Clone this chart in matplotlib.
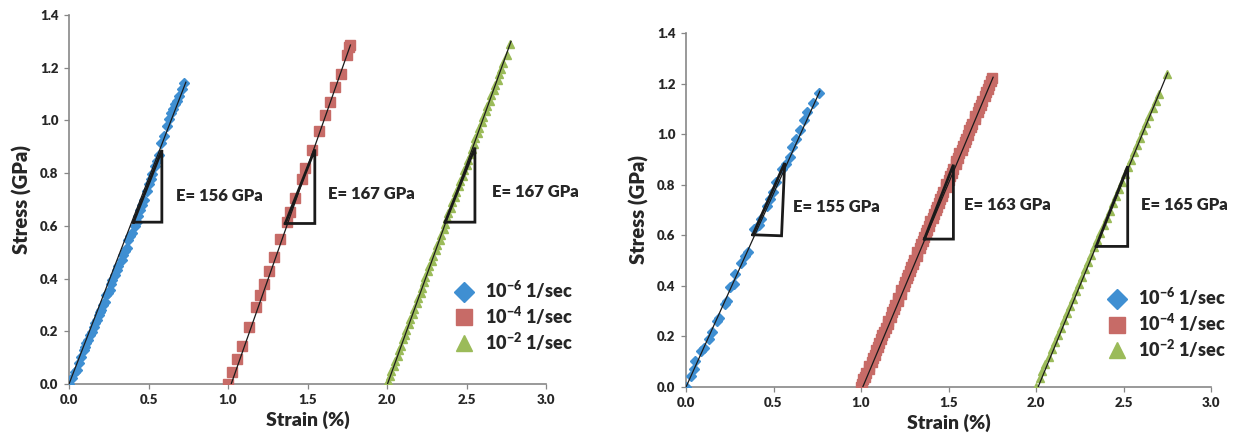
import matplotlib
matplotlib.use("Agg")
import matplotlib.pyplot as plt
from matplotlib.lines import Line2D

FONT = 'Lato'
WEIGHT = 'heavy'
plt.rcParams['font.family'] = [FONT, 'DejaVu Sans']
plt.rcParams['font.weight'] = WEIGHT
plt.rcParams['mathtext.fontset'] = 'custom'
plt.rcParams['mathtext.rm'] = f'{FONT}:{WEIGHT}'
plt.rcParams['mathtext.it'] = f'{FONT}:{WEIGHT}'
plt.rcParams['mathtext.bf'] = f'{FONT}:{WEIGHT}'
plt.rcParams['mathtext.default'] = 'rm'

# ---------------- data: left panel ----------------
L_blue_x = [0.000, 0.020, 0.035, 0.050, 0.062, 0.078, 0.092, 0.099, 0.110, 0.117, 0.130, 0.142,
            0.157, 0.165, 0.174, 0.186, 0.195, 0.204, 0.214, 0.224, 0.231, 0.245, 0.256, 0.265,
            0.273, 0.291, 0.300, 0.311, 0.331, 0.341, 0.352, 0.365, 0.373, 0.386, 0.398, 0.418,
            0.428, 0.435, 0.447, 0.460, 0.472, 0.490, 0.505, 0.515, 0.522, 0.539, 0.554, 0.566,
            0.579, 0.597, 0.614, 0.626, 0.639, 0.651, 0.668, 0.679, 0.689, 0.708, 0.723]
L_blue_y = [0.000, 0.024, 0.045, 0.053, 0.079, 0.104, 0.129, 0.142, 0.155, 0.167, 0.185, 0.199,
            0.218, 0.232, 0.243, 0.262, 0.272, 0.282, 0.300, 0.313, 0.339, 0.347, 0.358, 0.378,
            0.396, 0.415, 0.432, 0.446, 0.472, 0.491, 0.503, 0.516, 0.548, 0.560, 0.573, 0.599,
            0.615, 0.639, 0.662, 0.681, 0.700, 0.732, 0.757, 0.778, 0.795, 0.827, 0.846, 0.870,
            0.913, 0.941, 0.979, 1.005, 1.030, 1.042, 1.062, 1.074, 1.093, 1.118, 1.141]

L_red_x = [0.999, 1.027, 1.059, 1.091, 1.131, 1.176, 1.201, 1.228, 1.255, 1.288, 1.330, 1.370,
           1.387, 1.422, 1.467, 1.486, 1.529, 1.573, 1.608, 1.641, 1.675, 1.708, 1.747, 1.762, 1.767]
L_red_y = [0.000, 0.047, 0.095, 0.146, 0.218, 0.294, 0.336, 0.380, 0.427, 0.483, 0.550, 0.614,
           0.652, 0.706, 0.779, 0.818, 0.886, 0.959, 1.020, 1.069, 1.126, 1.175, 1.248, 1.277, 1.286]

L_green_x = [2.000, 2.004, 2.022, 2.026, 2.045, 2.050, 2.068, 2.074, 2.090, 2.099, 2.115, 2.120,
             2.140, 2.145, 2.163, 2.168, 2.188, 2.192, 2.211, 2.217, 2.235, 2.241, 2.260, 2.265,
             2.284, 2.289, 2.307, 2.314, 2.331, 2.337, 2.356, 2.362, 2.380, 2.386, 2.404, 2.411,
             2.428, 2.434, 2.453, 2.459, 2.477, 2.484, 2.502, 2.508, 2.526, 2.532, 2.550, 2.556,
             2.575, 2.581, 2.599, 2.605, 2.623, 2.629, 2.647, 2.654, 2.672, 2.678, 2.696, 2.702,
             2.720, 2.727, 2.752, 2.774]
L_green_y = [0.000, 0.012, 0.032, 0.048, 0.070, 0.088, 0.108, 0.128, 0.145, 0.170, 0.187, 0.205,
             0.228, 0.247, 0.266, 0.285, 0.308, 0.325, 0.346, 0.366, 0.386, 0.406, 0.428, 0.446,
             0.468, 0.487, 0.507, 0.528, 0.547, 0.567, 0.588, 0.608, 0.628, 0.649, 0.668, 0.690,
             0.709, 0.729, 0.750, 0.770, 0.790, 0.811, 0.831, 0.851, 0.872, 0.892, 0.911, 0.932,
             0.953, 0.973, 0.993, 1.013, 1.034, 1.053, 1.073, 1.095, 1.115, 1.135, 1.155, 1.176,
             1.196, 1.217, 1.250, 1.290]

L_fit_blue = ([0.000, 0.735], [0.000, 1.145])
L_fit_red = ([1.020, 1.770], [0.000, 1.286])
L_fit_green = ([2.003, 2.780], [0.000, 1.300])

L_tri_blue = ([0.405, 0.584, 0.584, 0.405], [0.614, 0.614, 0.888, 0.614])
L_tri_red = ([1.360, 1.546, 1.546, 1.360], [0.609, 0.609, 0.890, 0.609])
L_tri_green = ([2.366, 2.553, 2.553, 2.366], [0.614, 0.614, 0.897, 0.614])
L_labels = ["E= 156 GPa", "E= 167 GPa", "E= 167 GPa"]
L_label_x = [0.676, 1.628, 2.660]
L_label_y = [0.713, 0.719, 0.728]

# ---------------- data: right panel ----------------
R_blue_x = [0.000, 0.029, 0.045, 0.052, 0.085, 0.103, 0.130, 0.146, 0.175, 0.187, 0.220, 0.232,
            0.254, 0.276, 0.281, 0.317, 0.339, 0.355, 0.389, 0.416, 0.429, 0.461, 0.479, 0.497,
            0.512, 0.546, 0.569, 0.596, 0.607, 0.631, 0.654, 0.672, 0.692, 0.726, 0.760]
R_blue_y = [0.000, 0.042, 0.071, 0.104, 0.141, 0.154, 0.190, 0.216, 0.260, 0.273, 0.330, 0.339,
            0.396, 0.409, 0.445, 0.491, 0.520, 0.535, 0.624, 0.642, 0.666, 0.714, 0.743, 0.770,
            0.812, 0.862, 0.882, 0.908, 0.950, 0.981, 1.018, 1.056, 1.086, 1.125, 1.163]

R_red_x = [1.000, 1.006, 1.014, 1.025, 1.030, 1.043, 1.048, 1.061, 1.066, 1.079, 1.085, 1.098,
           1.102, 1.117, 1.121, 1.134, 1.140, 1.153, 1.157, 1.171, 1.176, 1.189, 1.194, 1.209,
           1.212, 1.226, 1.231, 1.244, 1.250, 1.264, 1.268, 1.281, 1.286, 1.299, 1.305, 1.319,
           1.322, 1.336, 1.342, 1.355, 1.359, 1.374, 1.378, 1.391, 1.397, 1.409, 1.415, 1.429,
           1.433, 1.446, 1.452, 1.464, 1.470, 1.485, 1.488, 1.501, 1.507, 1.520, 1.525, 1.540,
           1.543, 1.556, 1.562, 1.575, 1.580, 1.595, 1.598, 1.612, 1.618, 1.630, 1.635, 1.650,
           1.654, 1.667, 1.673, 1.685, 1.690, 1.706, 1.712, 1.724, 1.733, 1.742, 1.750]
R_red_y = [0.000, 0.010, 0.030, 0.040, 0.055, 0.070, 0.084, 0.100, 0.115, 0.128, 0.145, 0.160,
           0.174, 0.190, 0.205, 0.218, 0.235, 0.250, 0.262, 0.278, 0.295, 0.308, 0.325, 0.340,
           0.352, 0.368, 0.385, 0.398, 0.415, 0.430, 0.443, 0.458, 0.475, 0.488, 0.503, 0.520,
           0.532, 0.548, 0.565, 0.578, 0.592, 0.610, 0.622, 0.638, 0.655, 0.667, 0.683, 0.700,
           0.712, 0.727, 0.745, 0.757, 0.772, 0.790, 0.802, 0.817, 0.835, 0.847, 0.862, 0.880,
           0.892, 0.907, 0.925, 0.937, 0.952, 0.970, 0.982, 0.997, 1.015, 1.027, 1.042, 1.060,
           1.072, 1.087, 1.105, 1.117, 1.133, 1.150, 1.165, 1.180, 1.195, 1.210, 1.222]

R_green_x = [2.000, 2.021, 2.037, 2.054, 2.073, 2.091, 2.108, 2.124, 2.141, 2.159, 2.176, 2.195,
             2.211, 2.228, 2.245, 2.264, 2.282, 2.298, 2.316, 2.334, 2.350, 2.368, 2.387, 2.404,
             2.421, 2.439, 2.456, 2.474, 2.491, 2.509, 2.526, 2.543, 2.561, 2.578, 2.596, 2.613,
             2.631, 2.648, 2.666, 2.683, 2.701, 2.749]
R_green_y = [0.000, 0.035, 0.062, 0.090, 0.120, 0.150, 0.178, 0.206, 0.234, 0.263, 0.292, 0.322,
             0.350, 0.378, 0.406, 0.437, 0.466, 0.494, 0.523, 0.552, 0.580, 0.609, 0.640, 0.668,
             0.697, 0.726, 0.755, 0.784, 0.812, 0.842, 0.870, 0.898, 0.928, 0.957, 0.986, 1.015,
             1.045, 1.073, 1.102, 1.130, 1.160, 1.239]

R_fit_blue = ([0.000, 0.765], [0.000, 1.170])
R_fit_red = ([1.010, 1.755], [0.000, 1.225])
R_fit_green = ([2.012, 2.752], [0.000, 1.242])

R_tri_blue = ([0.382, 0.546, 0.564, 0.382], [0.602, 0.598, 0.886, 0.602])
R_tri_red = ([1.362, 1.528, 1.528, 1.362], [0.585, 0.585, 0.879, 0.585])
R_tri_green = ([2.344, 2.524, 2.524, 2.344], [0.556, 0.556, 0.873, 0.556])
R_labels = ["E= 155 GPa", "E= 163 GPa", "E= 165 GPa"]
R_label_x = [0.613, 1.591, 2.602]
R_label_y = [0.712, 0.721, 0.721]

legend_labels = ['10$^{-6}$ 1/sec', '10$^{-4}$ 1/sec', '10$^{-2}$ 1/sec']
x_ticks = [0.0, 0.5, 1.0, 1.5, 2.0, 2.5, 3.0]
y_ticks = [0.0, 0.2, 0.4, 0.6, 0.8, 1.0, 1.2, 1.4]

BLUE = '#3F8FD2'
RED = '#C76B67'
GREEN = '#9BBB59'
TXT = '#262626'
SPINE = '#878787'

W, H = 1237, 440
fig = plt.figure(figsize=(W / 100, H / 100), dpi=100)

def px_axes(x0, x1, y0, y1):
    return fig.add_axes([x0 / W, 1 - y0 / H, (x1 - x0) / W, (y0 - y1) / H])

def panel(ax, series, fits, tris, labels, lx, ly, leg_anchor, red_ms):
    (bx, by), (rx, ry), (gx, gy) = series
    ax.plot(bx, by, ls='none', marker='D', ms=5.4, color=BLUE, mec=BLUE, zorder=3)
    ax.plot(rx, ry, ls='none', marker='s', ms=red_ms, color=RED, mec=RED, zorder=3)
    ax.plot(gx, gy, ls='none', marker='^', ms=5.5, color=GREEN, mec=GREEN, zorder=3)
    for fx, fy in fits:
        ax.plot(fx, fy, color='#1a1a1a', lw=0.9, zorder=4)
    for tx, ty in tris:
        ax.plot(tx, ty, color='#1a1a1a', lw=2.0, zorder=5, solid_joinstyle='miter')
    for t, x, y in zip(labels, lx, ly):
        ax.text(x, y, t, fontsize=12, fontweight=WEIGHT, color=TXT, va='center', ha='left')
    ax.set_xlim(0, 3.0)
    ax.set_ylim(0, 1.4)
    ax.set_xticks(x_ticks)
    ax.set_yticks(y_ticks)
    ax.set_xticklabels([f'{v:.1f}' for v in x_ticks])
    ax.set_yticklabels([f'{v:.1f}' for v in y_ticks])
    for s in ['top', 'right']:
        ax.spines[s].set_visible(False)
    for s in ['left', 'bottom']:
        ax.spines[s].set_color(SPINE)
        ax.spines[s].set_linewidth(1.2)
    ax.tick_params(axis='both', direction='out', length=3.5, width=0.9, color=SPINE,
                   labelsize=9.5, labelcolor=TXT, pad=4)
    for lab in ax.get_xticklabels() + ax.get_yticklabels():
        lab.set_fontweight(WEIGHT)
    ax.set_xlabel('Strain (%)', fontsize=14, fontweight=WEIGHT, color=TXT, labelpad=3)
    ax.set_ylabel('Stress (GPa)', fontsize=14.5, fontweight=WEIGHT, color=TXT, labelpad=6)
    handles = [Line2D([], [], ls='none', marker='D', ms=10, color=BLUE),
               Line2D([], [], ls='none', marker='s', ms=11, color=RED),
               Line2D([], [], ls='none', marker='^', ms=11, color=GREEN)]
    leg = ax.legend(handles, legend_labels, loc='upper left', bbox_to_anchor=leg_anchor,
                    frameon=False, fontsize=13, handlelength=1.2, handletextpad=0.6,
                    labelspacing=0.2, borderpad=0.0, borderaxespad=0.0)
    for t in leg.get_texts():
        t.set_color(TXT)
        t.set_fontweight(WEIGHT)
    return ax

axL = px_axes(69, 546, 384, 15)
panel(axL,
      [(L_blue_x, L_blue_y), (L_red_x, L_red_y), (L_green_x, L_green_y)],
      [L_fit_blue, L_fit_red, L_fit_green],
      [L_tri_blue, L_tri_red, L_tri_green],
      L_labels, L_label_x, L_label_y, (0.805, 0.285), 6.5)

axR = px_axes(686, 1211, 387, 33)
panel(axR,
      [(R_blue_x, R_blue_y), (R_red_x, R_red_y), (R_green_x, R_green_y)],
      [R_fit_blue, R_fit_red, R_fit_green],
      [R_tri_blue, R_tri_red, R_tri_green],
      R_labels, R_label_x, R_label_y, (0.80, 0.285), 7.5)

fig.savefig('out.png', dpi=100)
